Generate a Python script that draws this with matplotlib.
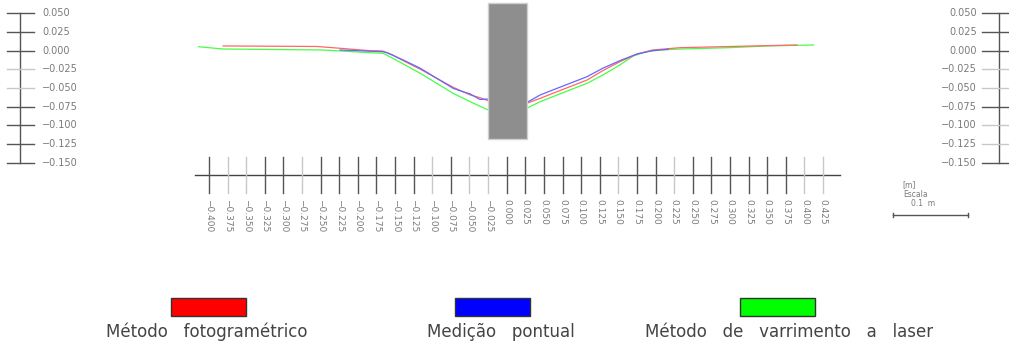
import matplotlib
matplotlib.use("Agg")
import matplotlib.pyplot as plt
from matplotlib.patches import Rectangle

# ---------------- data (metres) ----------------
red_x = [-0.381, -0.255, -0.224, -0.184, -0.167, -0.153, -0.139, -0.116, -0.094, -0.072,
         -0.049, -0.036, -0.025, 0.000, 0.027, 0.045, 0.062, 0.085, 0.108, 0.129,
         0.152, 0.175, 0.196, 0.233, 0.350, 0.390]
red_y = [0.0062, 0.0055, 0.0031, -0.0001, -0.0005, -0.0059, -0.0135, -0.0250, -0.0371, -0.0491,
         -0.0594, -0.0630, -0.0670, -0.0710, -0.0705, -0.0639, -0.0572, -0.0483, -0.0394, -0.0269,
         -0.0149, -0.0046, 0.0008, 0.0039, 0.0066, 0.0075]

blue_x = [-0.224, -0.166, -0.161, -0.139, -0.116, -0.094, -0.072, -0.059, -0.049, -0.036,
          -0.025, 0.000, 0.027, 0.045, 0.062, 0.085, 0.108, 0.129, 0.152, 0.175, 0.196, 0.217]
blue_y = [0.0008, -0.0015, -0.0028, -0.0126, -0.0237, -0.0371, -0.0505, -0.0550, -0.0580, -0.0655,
          -0.0648, -0.0700, -0.0695, -0.0594, -0.0527, -0.0438, -0.0349, -0.0237, -0.0135, -0.0046,
          -0.0001, 0.0017]

green_x = [-0.414, -0.381, -0.247, -0.184, -0.166, -0.153, -0.139, -0.116, -0.094, -0.072,
           -0.049, -0.025, 0.000, 0.027, 0.045, 0.062, 0.085, 0.108, 0.129, 0.152,
           0.170, 0.188, 0.206, 0.233, 0.300, 0.350, 0.412]
green_y = [0.0052, 0.0021, 0.0008, -0.0028, -0.0036, -0.0103, -0.0179, -0.0304, -0.0438, -0.0572,
           -0.0684, -0.0795, -0.0810, -0.0772, -0.0684, -0.0617, -0.0527, -0.0438, -0.0327, -0.0193,
           -0.0072, -0.0015, 0.0008, 0.0021, 0.0039, 0.0062, 0.0075]

x_ticks = [round(-0.400 + 0.025 * i, 3) for i in range(34)]
x_light = [-0.375, -0.350, -0.275, -0.100, -0.050, -0.025, 0.150, 0.225, 0.400, 0.425]
y_ticks = [0.050, 0.025, 0.000, -0.025, -0.050, -0.075, -0.100, -0.125, -0.150]
y_light_left = [-0.025, -0.050]
y_light_right = [-0.025, -0.050, -0.100, -0.125]

series_names = ["Método   fotogramétrico", "Medição   pontual", "Método   de   varrimento   a   laser"]
series_colors = ["#ff0000", "#0000ff", "#00ff00"]

# ---------------- figure ----------------
W, H = 1009, 351
fig = plt.figure(figsize=(W / 100, H / 100), dpi=100)
ax = fig.add_axes([0, 0, 1, 1])
ax.set_xlim(-0.6806, 0.6747)
ax.set_ylim(-0.4021, 0.0677)
ax.axis("off")

def fmt(v):
    s = f"{abs(v):.3f}"
    return ("\u2212" + s) if v < 0 else s

dark = "#555555"
light = "#c8c8c8"
tcol = "#7a7a7a"

# profile lines
ax.plot(green_x, green_y, color="#44ff44", lw=0.9, zorder=2)
ax.plot(red_x, red_y, color="#ff6666", lw=0.9, zorder=3)
ax.plot(blue_x, blue_y, color="#6666ff", lw=0.9, zorder=3)

# grey block
ax.add_patch(Rectangle((-0.025, -0.118), 0.052, 0.182, facecolor="#8e8e8e",
                       edgecolor="#d0d0d0", lw=1, zorder=5))

# bottom axis
y_axis = -0.1659
ax.plot([-0.4187, 0.4478], [y_axis, y_axis], color="#444444", lw=1, zorder=4)
for v in x_ticks:
    c = light if any(abs(v - l) < 1e-6 for l in x_light) else dark
    ax.plot([v, v], [-0.1427, -0.1906], color=c, lw=1, zorder=4)
    ax.text(v, -0.1985, fmt(v), rotation=270, ha="center", va="top",
            fontsize=6.5, color=tcol)

# left vertical scale
xl = -0.6537
ax.plot([xl, xl], [0.050, -0.150], color="#555555", lw=1)
for v in y_ticks:
    c = light if v in y_light_left else dark
    ax.plot([-0.6712, -0.6349], [v, v], color=c, lw=1)
    ax.text(-0.6242, v, fmt(v), ha="left", va="center", fontsize=7, color=tcol)

# right vertical scale
xr = 0.6613
ax.plot([xr, xr], [0.050, -0.150], color="#555555", lw=1)
for v in y_ticks:
    c = light if v in y_light_right else dark
    ax.plot([0.6385, 0.6747], [v, v], color=c, lw=1)
    ax.text(0.6317, v, fmt(v), ha="right", va="center", fontsize=7, color=tcol)

# scale bar
sb_y = -0.2200
ax.plot([0.519, 0.619], [sb_y, sb_y], color="#555555", lw=1)
ax.plot([0.519, 0.519], [sb_y - 0.003, sb_y + 0.003], color="#555555", lw=1)
ax.plot([0.619, 0.619], [sb_y - 0.003, sb_y + 0.003], color="#555555", lw=1)
ax.text(0.532, -0.1795, "[m]", fontsize=5.5, color=tcol, ha="left", va="center")
ax.text(0.532, -0.1925, "Escala", fontsize=5.5, color=tcol, ha="left", va="center")
ax.text(0.543, -0.2045, "0.1  m", fontsize=5.5, color=tcol, ha="left", va="center")

# legend
rect_x = [171, 455, 740]
text_cx = [207, 501, 789]
for rx, tx, name, col in zip(rect_x, text_cx, series_names, series_colors):
    fig.patches.append(Rectangle((rx / W, 1 - 315.5 / H), 75 / W, 17.5 / H,
                                 transform=fig.transFigure, facecolor=col,
                                 edgecolor="#333333", lw=1))
    fig.text(tx / W, 1 - 332 / H, name, ha="center", va="center",
             fontsize=12, color="#444444")

fig.savefig("out.png", dpi=100)
